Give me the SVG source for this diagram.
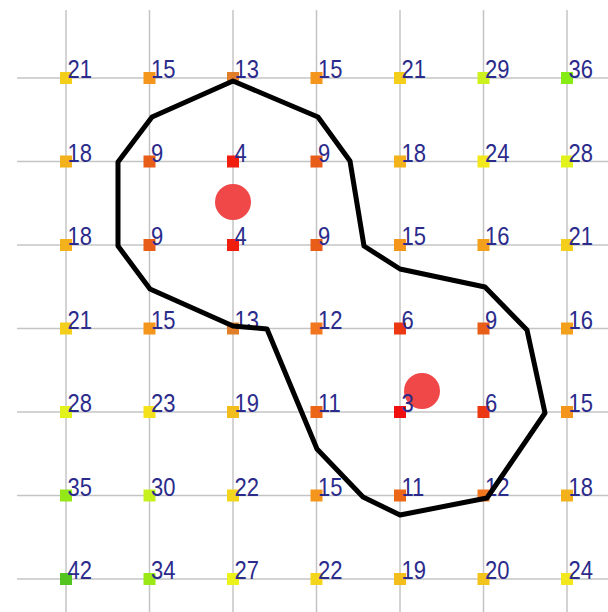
<svg xmlns="http://www.w3.org/2000/svg" width="608" height="612" viewBox="0 0 608 612">
<style>
.grid line{stroke:#c4c4c4;stroke-width:1.5}
.node rect{stroke:none}
.node text{font-family:"Liberation Sans",Arial,sans-serif;font-size:22px;fill:#2b2b8c}
.dot{fill:#f04848}
.poly{fill:none;stroke:#000;stroke-width:5;stroke-linejoin:round}
</style>
<rect width="608" height="612" fill="#fff"/>
<g class="grid">
<line x1="66" y1="10" x2="66" y2="612"/><line x1="149.5" y1="10" x2="149.5" y2="612"/><line x1="233" y1="10" x2="233" y2="612"/><line x1="316.5" y1="10" x2="316.5" y2="612"/><line x1="400" y1="10" x2="400" y2="612"/><line x1="483.5" y1="10" x2="483.5" y2="612"/><line x1="567" y1="10" x2="567" y2="612"/>
<line x1="17" y1="78" x2="608" y2="78"/><line x1="17" y1="161.5" x2="608" y2="161.5"/><line x1="17" y1="245" x2="608" y2="245"/><line x1="17" y1="328.5" x2="608" y2="328.5"/><line x1="17" y1="412" x2="608" y2="412"/><line x1="17" y1="495.5" x2="608" y2="495.5"/><line x1="17" y1="579" x2="608" y2="579"/>
</g>
<g id="centers">
<circle class="dot" cx="233" cy="202" r="18"/>
<circle class="dot" cx="422" cy="391" r="18"/>
</g>
<g id="nodes">
<g id="n0-0" class="node"><rect x="60" y="72" width="12" height="12" fill="hsl(50,90%,53%)"/><text transform="translate(67.5,78) scale(1,1.15)">21</text></g>
<g id="n0-1" class="node"><rect x="143.5" y="72" width="12" height="12" fill="hsl(34,90%,53%)"/><text transform="translate(151,78) scale(1,1.15)">15</text></g>
<g id="n0-2" class="node"><rect x="227" y="72" width="12" height="12" fill="hsl(28,75%,52%)"/><text transform="translate(234.5,78) scale(1,1.15)">13</text></g>
<g id="n0-3" class="node"><rect x="310.5" y="72" width="12" height="12" fill="hsl(34,90%,53%)"/><text transform="translate(318,78) scale(1,1.15)">15</text></g>
<g id="n0-4" class="node"><rect x="394" y="72" width="12" height="12" fill="hsl(50,90%,53%)"/><text transform="translate(401.5,78) scale(1,1.15)">21</text></g>
<g id="n0-5" class="node"><rect x="477.5" y="72" width="12" height="12" fill="hsl(70,88%,53%)"/><text transform="translate(485,78) scale(1,1.15)">29</text></g>
<g id="n0-6" class="node"><rect x="561" y="72" width="12" height="12" fill="hsl(88,85%,50%)"/><text transform="translate(568.5,78) scale(1,1.15)">36</text></g>

<g id="n1-0" class="node"><rect x="60" y="155.5" width="12" height="12" fill="hsl(42,90%,53%)"/><text transform="translate(67.5,161.5) scale(1,1.15)">18</text></g>
<g id="n1-1" class="node"><rect x="143.5" y="155.5" width="12" height="12" fill="hsl(20,82%,50%)"/><text transform="translate(151,161.5) scale(1,1.15)">9</text></g>
<g id="n1-2" class="node"><rect x="227" y="155.5" width="12" height="12" fill="hsl(4,88%,50%)"/><text transform="translate(234.5,161.5) scale(1,1.15)">4</text></g>
<g id="n1-3" class="node"><rect x="310.5" y="155.5" width="12" height="12" fill="hsl(20,82%,50%)"/><text transform="translate(318,161.5) scale(1,1.15)">9</text></g>
<g id="n1-4" class="node"><rect x="394" y="155.5" width="12" height="12" fill="hsl(42,90%,53%)"/><text transform="translate(401.5,161.5) scale(1,1.15)">18</text></g>
<g id="n1-5" class="node"><rect x="477.5" y="155.5" width="12" height="12" fill="hsl(57,90%,53%)"/><text transform="translate(485,161.5) scale(1,1.15)">24</text></g>
<g id="n1-6" class="node"><rect x="561" y="155.5" width="12" height="12" fill="hsl(65,90%,53%)"/><text transform="translate(568.5,161.5) scale(1,1.15)">28</text></g>

<g id="n2-0" class="node"><rect x="60" y="239" width="12" height="12" fill="hsl(42,90%,53%)"/><text transform="translate(67.5,245) scale(1,1.15)">18</text></g>
<g id="n2-1" class="node"><rect x="143.5" y="239" width="12" height="12" fill="hsl(20,82%,50%)"/><text transform="translate(151,245) scale(1,1.15)">9</text></g>
<g id="n2-2" class="node"><rect x="227" y="239" width="12" height="12" fill="hsl(4,88%,50%)"/><text transform="translate(234.5,245) scale(1,1.15)">4</text></g>
<g id="n2-3" class="node"><rect x="310.5" y="239" width="12" height="12" fill="hsl(20,82%,50%)"/><text transform="translate(318,245) scale(1,1.15)">9</text></g>
<g id="n2-4" class="node"><rect x="394" y="239" width="12" height="12" fill="hsl(34,90%,53%)"/><text transform="translate(401.5,245) scale(1,1.15)">15</text></g>
<g id="n2-5" class="node"><rect x="477.5" y="239" width="12" height="12" fill="hsl(37,90%,53%)"/><text transform="translate(485,245) scale(1,1.15)">16</text></g>
<g id="n2-6" class="node"><rect x="561" y="239" width="12" height="12" fill="hsl(50,90%,53%)"/><text transform="translate(568.5,245) scale(1,1.15)">21</text></g>

<g id="n3-0" class="node"><rect x="60" y="322.5" width="12" height="12" fill="hsl(50,90%,53%)"/><text transform="translate(67.5,328.5) scale(1,1.15)">21</text></g>
<g id="n3-1" class="node"><rect x="143.5" y="322.5" width="12" height="12" fill="hsl(34,90%,53%)"/><text transform="translate(151,328.5) scale(1,1.15)">15</text></g>
<g id="n3-2" class="node"><rect x="227" y="322.5" width="12" height="12" fill="hsl(28,75%,52%)"/><text transform="translate(234.5,328.5) scale(1,1.15)">13</text></g>
<g id="n3-3" class="node"><rect x="310.5" y="322.5" width="12" height="12" fill="hsl(25,88%,53%)"/><text transform="translate(318,328.5) scale(1,1.15)">12</text></g>
<g id="n3-4" class="node"><rect x="394" y="322.5" width="12" height="12" fill="hsl(10,85%,50%)"/><text transform="translate(401.5,328.5) scale(1,1.15)">6</text></g>
<g id="n3-5" class="node"><rect x="477.5" y="322.5" width="12" height="12" fill="hsl(20,82%,50%)"/><text transform="translate(485,328.5) scale(1,1.15)">9</text></g>
<g id="n3-6" class="node"><rect x="561" y="322.5" width="12" height="12" fill="hsl(37,90%,53%)"/><text transform="translate(568.5,328.5) scale(1,1.15)">16</text></g>

<g id="n4-0" class="node"><rect x="60" y="406" width="12" height="12" fill="hsl(65,90%,53%)"/><text transform="translate(67.5,412) scale(1,1.15)">28</text></g>
<g id="n4-1" class="node"><rect x="143.5" y="406" width="12" height="12" fill="hsl(55,90%,53%)"/><text transform="translate(151,412) scale(1,1.15)">23</text></g>
<g id="n4-2" class="node"><rect x="227" y="406" width="12" height="12" fill="hsl(45,90%,53%)"/><text transform="translate(234.5,412) scale(1,1.15)">19</text></g>
<g id="n4-3" class="node"><rect x="310.5" y="406" width="12" height="12" fill="hsl(22,85%,51%)"/><text transform="translate(318,412) scale(1,1.15)">11</text></g>
<g id="n4-4" class="node"><rect x="394" y="406" width="12" height="12" fill="hsl(0,88%,50%)"/><text transform="translate(401.5,412) scale(1,1.15)">3</text></g>
<g id="n4-5" class="node"><rect x="477.5" y="406" width="12" height="12" fill="hsl(10,85%,50%)"/><text transform="translate(485,412) scale(1,1.15)">6</text></g>
<g id="n4-6" class="node"><rect x="561" y="406" width="12" height="12" fill="hsl(34,90%,53%)"/><text transform="translate(568.5,412) scale(1,1.15)">15</text></g>

<g id="n5-0" class="node"><rect x="60" y="489.5" width="12" height="12" fill="hsl(84,82%,50%)"/><text transform="translate(67.5,495.5) scale(1,1.15)">35</text></g>
<g id="n5-1" class="node"><rect x="143.5" y="489.5" width="12" height="12" fill="hsl(72,88%,53%)"/><text transform="translate(151,495.5) scale(1,1.15)">30</text></g>
<g id="n5-2" class="node"><rect x="227" y="489.5" width="12" height="12" fill="hsl(52,90%,53%)"/><text transform="translate(234.5,495.5) scale(1,1.15)">22</text></g>
<g id="n5-3" class="node"><rect x="310.5" y="489.5" width="12" height="12" fill="hsl(34,90%,53%)"/><text transform="translate(318,495.5) scale(1,1.15)">15</text></g>
<g id="n5-4" class="node"><rect x="394" y="489.5" width="12" height="12" fill="hsl(22,85%,51%)"/><text transform="translate(401.5,495.5) scale(1,1.15)">11</text></g>
<g id="n5-5" class="node"><rect x="477.5" y="489.5" width="12" height="12" fill="hsl(25,88%,53%)"/><text transform="translate(485,495.5) scale(1,1.15)">12</text></g>
<g id="n5-6" class="node"><rect x="561" y="489.5" width="12" height="12" fill="hsl(42,90%,53%)"/><text transform="translate(568.5,495.5) scale(1,1.15)">18</text></g>

<g id="n6-0" class="node"><rect x="60" y="573" width="12" height="12" fill="hsl(101,72%,45%)"/><text transform="translate(67.5,579) scale(1,1.15)">42</text></g>
<g id="n6-1" class="node"><rect x="143.5" y="573" width="12" height="12" fill="hsl(82,82%,50%)"/><text transform="translate(151,579) scale(1,1.15)">34</text></g>
<g id="n6-2" class="node"><rect x="227" y="573" width="12" height="12" fill="hsl(62,90%,53%)"/><text transform="translate(234.5,579) scale(1,1.15)">27</text></g>
<g id="n6-3" class="node"><rect x="310.5" y="573" width="12" height="12" fill="hsl(52,90%,53%)"/><text transform="translate(318,579) scale(1,1.15)">22</text></g>
<g id="n6-4" class="node"><rect x="394" y="573" width="12" height="12" fill="hsl(45,90%,53%)"/><text transform="translate(401.5,579) scale(1,1.15)">19</text></g>
<g id="n6-5" class="node"><rect x="477.5" y="573" width="12" height="12" fill="hsl(47,90%,53%)"/><text transform="translate(485,579) scale(1,1.15)">20</text></g>
<g id="n6-6" class="node"><rect x="561" y="573" width="12" height="12" fill="hsl(57,90%,53%)"/><text transform="translate(568.5,579) scale(1,1.15)">24</text></g>
</g>
<g id="connectors">
<polygon class="poly" points="233,81 318,117 350,161 364,246 400,269 485,287 527,330 545,413 487,498 400,515 363,497 317,449 267,329 233,326 150,289 118,246 118,162 152,117"/>
</g>
</svg>
